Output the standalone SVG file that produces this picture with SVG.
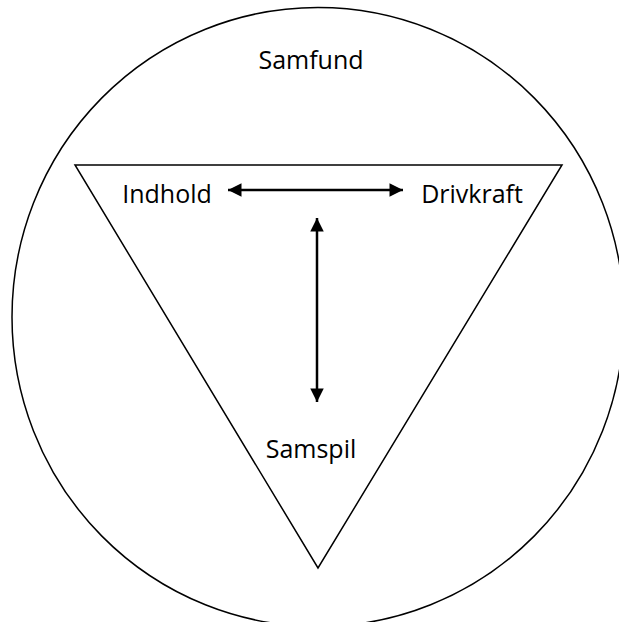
<svg xmlns="http://www.w3.org/2000/svg" width="619" height="622" viewBox="0 0 619 622">
  <style>
    .shape { fill: none; stroke: #000; stroke-width: 1.5; }
    .conn { fill: none; stroke: #000; stroke-width: 2.5; }
    .lbl { font-family: "Open Sans", "Liberation Sans", sans-serif; font-size: 25px; fill: #000; text-anchor: middle; }
  </style>
  <defs>
    <marker id="ah" viewBox="0 0 10 10" refX="10" refY="5" markerWidth="6.6" markerHeight="5.4" markerUnits="strokeWidth" orient="auto-start-reverse">
      <path d="M0,0 L10,5 L0,10 Z" fill="#000"/>
    </marker>
  </defs>
  <rect width="619" height="622" fill="#fff"/>
  <g id="samfund">
    <ellipse class="shape" cx="318" cy="317" rx="306" ry="309.5"/>
    <text class="lbl" x="311" y="69">Samfund</text>
  </g>
  <g id="triangle">
    <polygon class="shape" points="75,165 562,165 318,568"/>
  </g>
  <g id="indhold">
    <text class="lbl" x="167" y="203">Indhold</text>
  </g>
  <g id="drivkraft">
    <text class="lbl" x="472" y="203">Drivkraft</text>
  </g>
  <g id="samspil">
    <text class="lbl" x="311" y="458">Samspil</text>
  </g>
  <g id="connectors">
    <line class="conn" x1="228" y1="190" x2="403" y2="190" marker-start="url(#ah)" marker-end="url(#ah)"/>
    <line class="conn" x1="317" y1="218" x2="317" y2="402" marker-start="url(#ah)" marker-end="url(#ah)"/>
  </g>
</svg>
